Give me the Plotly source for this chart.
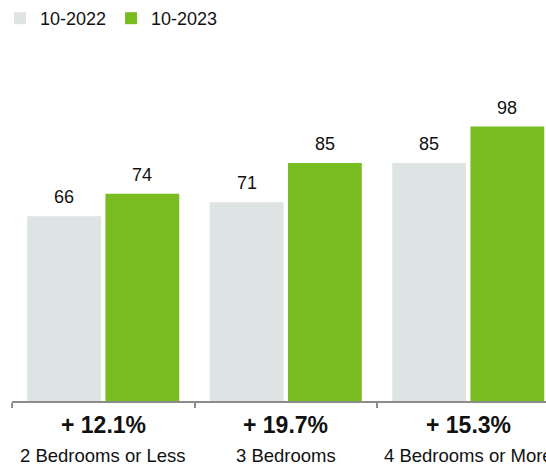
import plotly.graph_objects as go

# Median listing size by bedroom count, October 2022 vs October 2023
categories = ["2 Bedrooms or Less", "3 Bedrooms", "4 Bedrooms or More"]
series_names = ["10-2022", "10-2023"]
values_2022 = [66, 71, 85]
values_2023 = [74, 85, 98]

grey = "#dee3e3"
green = "#78bc20"
axis_grey = "#8c8c8c"
font_family = "Liberation Sans, Arial, sans-serif"

x_idx = list(range(len(categories)))

fig = go.Figure()
fig.add_trace(go.Bar(x=x_idx, y=values_2022, name=series_names[0],
                     marker=dict(color=grey, line=dict(width=0))))
fig.add_trace(go.Bar(x=x_idx, y=values_2023, name=series_names[1],
                     marker=dict(color=green, line=dict(width=0))))

annotations = []
# value labels above each bar, then change and category name under the axis
for i, (a, b) in enumerate(zip(values_2022, values_2023)):
    for val, shift in ((a, -39), (b, 39)):
        annotations.append(dict(x=i, y=val, xref="x", yref="y", text=str(val),
                                showarrow=False, xshift=shift, yanchor="bottom",
                                yshift=7, font=dict(size=18, color="#111111")))
    pct = (b - a) / a * 100
    annotations.append(dict(x=i, y=0, xref="x", yref="paper",
                            text=f"<b>+ {pct:.1f}%</b>", showarrow=False,
                            yanchor="middle", yshift=-24,
                            font=dict(size=23, color="#111111")))
    annotations.append(dict(x=i, y=0, xref="x", yref="paper",
                            text=categories[i], showarrow=False,
                            yanchor="middle", yshift=-54,
                            font=dict(size=18.5, color="#111111")))

px_per_cat = 182.5
plot_w = 546 - 12
fig.update_layout(
    width=546, height=468,
    margin=dict(l=12, r=0, t=50, b=67),
    paper_bgcolor="white", plot_bgcolor="white",
    font=dict(family=font_family, color="#111111"),
    barmode="group", bargap=0.143, bargroupgap=0.056,
    showlegend=True,
    legend=dict(orientation="h", x=0.0, y=1.0, xref="container", yref="container",
                xanchor="left", yanchor="top", font=dict(size=18),
                itemwidth=30, tracegroupgap=0, bgcolor="rgba(0,0,0,0)"),
    annotations=annotations,
    xaxis=dict(type="linear", range=[-0.5, -0.5 + plot_w / px_per_cat],
               showgrid=False, zeroline=False, showline=True,
               linecolor=axis_grey, linewidth=2,
               tickmode="array", tickvals=[-0.5, 0.5, 1.5, 2.5],
               ticks="outside", ticklen=5, tickwidth=2, tickcolor=axis_grey,
               showticklabels=False, fixedrange=True),
    yaxis=dict(range=[0, 351 / 2.8], visible=False, fixedrange=True),
)

fig.write_html("out.html")
